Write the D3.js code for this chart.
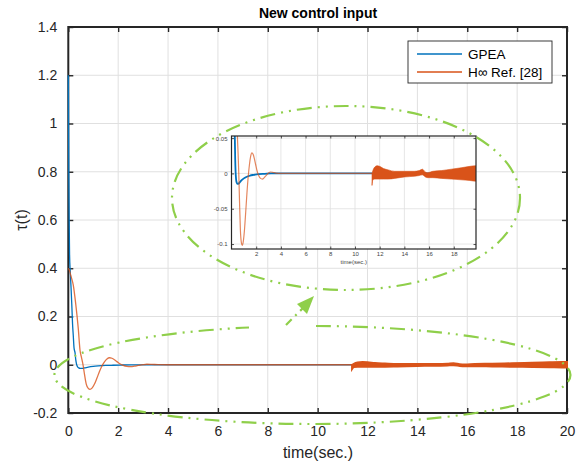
<!DOCTYPE html>
<html>
<head>
<meta charset="utf-8">
<script src="https://cdn.jsdelivr.net/npm/d3@7"></script>
<style>
  html, body { margin: 0; padding: 0; background: #fff; }
  svg { display: block; font-family: "Liberation Sans", Arial, Helvetica, sans-serif; }
</style>
</head>
<body>
<svg id="chart" width="585" height="464"></svg>
<script>
// GPEA control signal
const gpeaT = [0, 0.01, 0.02, 0.035, 0.05, 0.08, 0.11, 0.14, 0.17, 0.2, 0.23, 0.27, 0.3, 0.33, 0.37, 0.42, 0.48, 0.55, 0.65, 0.8, 1.0, 1.2, 1.5, 1.8, 2.2, 2.7, 3.2, 20];
const gpeaU = [1.2, 1.0, 0.8, 0.6, 0.46, 0.38, 0.32, 0.25, 0.17, 0.12, 0.07, 0.05, 0.02, 0.003, -0.008, -0.013, -0.0148, -0.0148, -0.013, -0.010, -0.007, -0.005, -0.003, -0.002, -0.001, -0.0005, 0, 0];

// H-infinity controller (Ref. [28]) — smooth part up to chattering onset
const hinfT = [0, 0.05, 0.1, 0.2, 0.3, 0.4, 0.47, 0.53, 0.59, 0.65, 0.72, 0.8, 0.87, 0.95, 1.05, 1.15, 1.25, 1.35, 1.45, 1.55, 1.65, 1.75, 1.85, 1.95, 2.05, 2.2, 2.35, 2.5, 2.65, 2.8, 3.0, 3.15, 3.35, 3.6, 4.0, 11.38];
const hinfU = [0.40, 0.39, 0.37, 0.33, 0.25, 0.15, 0.06, 0.03, 0.0, -0.04, -0.08, -0.098, -0.102, -0.097, -0.08, -0.055, -0.028, -0.005, 0.012, 0.024, 0.029, 0.027, 0.021, 0.013, 0.005, -0.003, -0.007, -0.008, -0.006, -0.003, 0.0005, 0.002, 0.0015, 0.0005, 0, 0];

// H-infinity chattering band after t = 11.4 s (upper / lower envelope)
const bandT  = [11.38, 11.45, 11.6, 11.8, 12.0, 12.3, 12.7, 13.2, 14.0, 14.8, 15.2, 15.45, 15.7, 15.9, 16.3, 17.0, 17.8, 18.6, 19.3, 19.8, 20];
const bandHi = [0.000, 0.004, 0.009, 0.011, 0.010, 0.007, 0.005, 0.003, 0.003, 0.003, 0.004, 0.006, 0.002, 0.001, 0.003, 0.004, 0.006, 0.008, 0.010, 0.011, 0.011];
const bandLo = [-0.017, -0.009, -0.008, -0.008, -0.008, -0.008, -0.008, -0.007, -0.005, -0.004, -0.003, -0.002, -0.005, -0.006, -0.006, -0.007, -0.008, -0.009, -0.010, -0.011, -0.011];

// Axis ticks
const mainXTicks = [0, 2, 4, 6, 8, 10, 12, 14, 16, 18, 20];
const mainYTicks = [-0.2, 0, 0.2, 0.4, 0.6, 0.8, 1, 1.2, 1.4];
const insetXTicks = [2, 4, 6, 8, 10, 12, 14, 16, 18];
const insetYTicks = [-0.1, -0.05, 0, 0.05];
const insetYLabels = ["-0.1", "-0.05", "0", "0.05"];

const seriesNames = ["GPEA", "H\u221E Ref. [28]"];
const BLUE = "#0072BD", ORANGE = "#D95319", AXC = "#262626", GRID = "#e0e0e0", GREEN = "#8fcf4a";

const svg = d3.select("#chart");

const gpea = gpeaT.map((t, i) => ({t, u: gpeaU[i]}));
const hinf = hinfT.map((t, i) => ({t, u: hinfU[i]}));
const band = bandT.map((t, i) => ({t, hi: bandHi[i], lo: bandLo[i]}));

// ---------- main axes ----------
const M = {l: 68.3, r: 567, t: 27, b: 413};
const x = d3.scaleLinear().domain([0, 20]).range([M.l, M.r]);
const y = d3.scaleLinear().domain([-0.2, 1.4]).range([M.b, M.t]);

const g = svg.append("g");
// grid
g.append("g").selectAll("line").data(mainXTicks.slice(1, -1)).join("line")
  .attr("x1", d => x(d)).attr("x2", d => x(d)).attr("y1", M.t).attr("y2", M.b)
  .attr("stroke", GRID).attr("stroke-width", 1);
g.append("g").selectAll("line").data(mainYTicks.slice(1, -1)).join("line")
  .attr("y1", d => y(d)).attr("y2", d => y(d)).attr("x1", M.l).attr("x2", M.r)
  .attr("stroke", GRID).attr("stroke-width", 1);

// axes (ticks inward on all sides)
const styleAxis = (sel, fs) => {
  sel.select(".domain").remove();
  sel.selectAll(".tick line").attr("stroke", AXC).attr("stroke-width", 1.4);
  sel.selectAll(".tick text").attr("fill", AXC).attr("font-size", fs)
    .attr("font-family", "Liberation Sans, Arial, sans-serif");
};
g.append("g").attr("transform", `translate(0,${M.b})`)
  .call(d3.axisBottom(x).tickValues(mainXTicks).tickFormat(d => String(d)).tickSizeInner(-5).tickPadding(13))
  .call(s => styleAxis(s, 14));
g.append("g").attr("transform", `translate(0,${M.t})`)
  .call(d3.axisTop(x).tickValues(mainXTicks).tickFormat("").tickSizeInner(-5))
  .call(s => styleAxis(s, 14));
g.append("g").attr("transform", `translate(${M.l},0)`)
  .call(d3.axisLeft(y).tickValues(mainYTicks).tickFormat(d => String(+d.toFixed(1))).tickSizeInner(-5).tickPadding(11))
  .call(s => styleAxis(s, 14));
g.append("g").attr("transform", `translate(${M.r},0)`)
  .call(d3.axisRight(y).tickValues(mainYTicks).tickFormat("").tickSizeInner(-5))
  .call(s => styleAxis(s, 14));

// box
svg.append("rect").attr("x", M.l).attr("y", M.t).attr("width", M.r - M.l).attr("height", M.b - M.t)
  .attr("fill", "none").attr("stroke", AXC).attr("stroke-width", 2);

// data
const lineMain = d3.line().x(d => x(d.t)).y(d => y(d.u)).curve(d3.curveMonotoneX);
svg.append("path").datum(gpea).attr("d", lineMain)
  .attr("fill", "none").attr("stroke", BLUE).attr("stroke-width", 1.3);
svg.append("path").datum(hinf).attr("d", lineMain)
  .attr("fill", "none").attr("stroke", ORANGE).attr("stroke-width", 1.3).attr("stroke-opacity", 0.8);
svg.append("path").datum(band)
  .attr("d", d3.area().x(d => x(d.t)).y0(d => y(d.lo)).y1(d => y(d.hi)).curve(d3.curveMonotoneX))
  .attr("fill", ORANGE).attr("stroke", ORANGE).attr("stroke-width", 2);

// labels
svg.append("text").attr("x", 318).attr("y", 18).attr("text-anchor", "middle")
  .attr("font-size", 14).attr("font-weight", "bold").attr("fill", "#000").text("New control input");
svg.append("text").attr("x", 318).attr("y", 458).attr("text-anchor", "middle")
  .attr("font-size", 16).attr("fill", AXC).text("time(sec.)");
svg.append("text").attr("transform", "translate(27,220) rotate(-90)").attr("text-anchor", "middle")
  .attr("font-size", 16).attr("fill", AXC).text("\u03C4(t)");

// legend
const lg = svg.append("g");
lg.append("rect").attr("x", 408).attr("y", 41).attr("width", 144).attr("height", 42)
  .attr("fill", "#fff").attr("stroke", AXC).attr("stroke-width", 0.9);
[BLUE, ORANGE].forEach((c, i) => {
  lg.append("line").attr("x1", 417).attr("x2", 462).attr("y1", 54 + i * 18).attr("y2", 54 + i * 18)
    .attr("stroke", c).attr("stroke-width", 1.3);
  lg.append("text").attr("x", 468).attr("y", 59 + i * 18).attr("font-size", 13.5)
    .attr("fill", "#000").text(seriesNames[i]);
});

// ---------- inset (zoom of small-signal region) ----------
const I = {l: 231.5, r: 476, t: 136, b: 249};
const xi = d3.scaleLinear().domain([0, 19.8]).range([I.l, I.r]);
const yi = d3.scaleLinear().domain([-0.107, 0.053]).range([I.b, I.t]);
const ig = svg.append("g");
ig.append("rect").attr("x", I.l).attr("y", I.t).attr("width", I.r - I.l).attr("height", I.b - I.t).attr("fill", "#fff");
svg.append("clipPath").attr("id", "insetClip").append("rect")
  .attr("x", I.l).attr("y", I.t).attr("width", I.r - I.l).attr("height", I.b - I.t);
ig.append("g").selectAll("line").data(insetXTicks).join("line")
  .attr("x1", d => xi(d)).attr("x2", d => xi(d)).attr("y1", I.t).attr("y2", I.b)
  .attr("stroke", GRID).attr("stroke-width", 0.8);
ig.append("g").selectAll("line").data(insetYTicks).join("line")
  .attr("y1", d => yi(d)).attr("y2", d => yi(d)).attr("x1", I.l).attr("x2", I.r)
  .attr("stroke", GRID).attr("stroke-width", 0.8);

const styleInset = sel => {
  sel.select(".domain").remove();
  sel.selectAll(".tick line").attr("stroke", AXC).attr("stroke-width", 0.8);
  sel.selectAll(".tick text").attr("fill", "#444").attr("font-size", 6)
    .attr("font-family", "Liberation Sans, Arial, sans-serif");
};
ig.append("g").attr("transform", `translate(0,${I.b})`)
  .call(d3.axisBottom(xi).tickValues(insetXTicks).tickSizeInner(-2.5).tickPadding(3)).call(styleInset);
ig.append("g").attr("transform", `translate(0,${I.t})`)
  .call(d3.axisTop(xi).tickValues(insetXTicks).tickFormat("").tickSizeInner(-2.5)).call(styleInset);
ig.append("g").attr("transform", `translate(${I.l},0)`)
  .call(d3.axisLeft(yi).tickValues(insetYTicks).tickFormat((d, i) => insetYLabels[i]).tickSizeInner(-2.5).tickPadding(4)).call(styleInset);
ig.append("g").attr("transform", `translate(${I.r},0)`)
  .call(d3.axisRight(yi).tickValues(insetYTicks).tickFormat("").tickSizeInner(-2.5)).call(styleInset);

const dg = ig.append("g").attr("clip-path", "url(#insetClip)");
const lineInset = d3.line().x(d => xi(d.t)).y(d => yi(d.u)).curve(d3.curveMonotoneX);
dg.append("path").datum(gpea).attr("d", lineInset)
  .attr("fill", "none").attr("stroke", BLUE).attr("stroke-width", 1.8);
dg.append("path").datum(hinf).attr("d", lineInset)
  .attr("fill", "none").attr("stroke", ORANGE).attr("stroke-width", 1.2).attr("stroke-opacity", 0.7);
dg.append("path").datum(band)
  .attr("d", d3.area().x(d => xi(d.t)).y0(d => yi(d.lo)).y1(d => yi(d.hi)).curve(d3.curveMonotoneX))
  .attr("fill", ORANGE).attr("stroke", ORANGE).attr("stroke-width", 0.6);
ig.append("rect").attr("x", I.l).attr("y", I.t).attr("width", I.r - I.l).attr("height", I.b - I.t)
  .attr("fill", "none").attr("stroke", AXC).attr("stroke-width", 1.2);
ig.append("text").attr("x", (I.l + I.r) / 2).attr("y", 264).attr("text-anchor", "middle")
  .attr("font-size", 6).attr("fill", "#444").text("time(sec.)");

// ---------- annotations: dash-dot-dot ellipses and arrow ----------
const dashStyle = "15,6,2,6,2,6";
svg.append("ellipse").attr("cx", 346).attr("cy", 198).attr("rx", 174).attr("ry", 92)
  .attr("fill", "none").attr("stroke", GREEN).attr("stroke-width", 2.2).attr("stroke-dasharray", dashStyle);
// lower ellipse, open at the top where the arrow leaves it
svg.append("path").attr("d", "M316,326 A258,49 0 1 1 249,327.5")
  .attr("fill", "none").attr("stroke", GREEN).attr("stroke-width", 2.2).attr("stroke-dasharray", dashStyle);
svg.append("line").attr("x1", 286).attr("y1", 325).attr("x2", 303).attr("y2", 308)
  .attr("stroke", GREEN).attr("stroke-width", 2.2).attr("stroke-dasharray", "8,5,2,5");
svg.append("path").attr("d", "M314,296 L297,304 L307,314 Z").attr("fill", GREEN);
</script>
</body>
</html>
